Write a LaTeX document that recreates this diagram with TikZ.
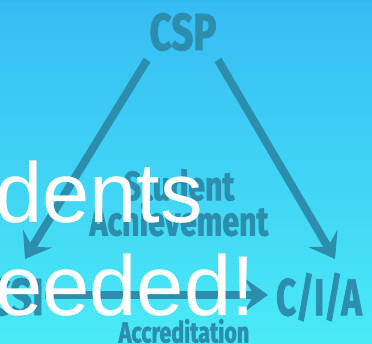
\documentclass[tikz,border=0pt]{standalone}
\usepackage{fontspec}
\usepackage{tikz}
\usetikzlibrary{arrows.meta}
\usetikzlibrary{positioning}

\newfontfamily\slidefont{Liberation Sans}
\newfontfamily\labelfont[FakeStretch=0.74, BoldFeatures={FakeBold=1.6}]{Fira Sans}

\definecolor{bgtop}{RGB}{54,188,244}
\definecolor{bgbot}{RGB}{74,234,246}
\definecolor{ink}{RGB}{44,142,172}

\begin{document}
\begin{tikzpicture}
			[
			x=1pt, y=-1pt,
			font=\labelfont\bfseries,
			every node/.style={text=ink, inner sep=0}
			]
			
			% Styles: the thick arrows and the slide words
			\tikzstyle{link}=[draw=ink, line width=8pt, -{Stealth[length=24pt,width=34pt,inset=10pt]}]
			\tikzstyle{big}=[font=\labelfont\bfseries\fontsize{52}{55}\selectfont]
			\tikzstyle{mid}=[font=\labelfont\bfseries\fontsize{41}{44}\selectfont]
			\tikzstyle{small}=[font=\labelfont\bfseries\fontsize{29}{32}\selectfont]
			\tikzstyle{overlay}=[text=white, anchor=base west, font=\slidefont\fontsize{85}{92}\selectfont]
			
			% Background
			\useasboundingbox (0,0) rectangle (372,343);
			\shade[top color=bgtop, bottom color=bgbot] (0,0) rectangle (372,343);
			
			% The three corners
			\node[big](csp) at (183,32){CSP};
			\node[big](csi) at (16,297){CSI};
			\node[big,xscale=0.9,transform shape](cia) at (319,297){C/I/A};
			
			% Middle and bottom words
			\node[mid](student) at (179,185){Student};
			\node[mid,below=1pt of student](achieve){Achievement};
			\node[small](accred) at (184,331){Accreditation};
			
			% Arrow ends
			\coordinate (l0) at (147,60);
			\coordinate (l1) at (25,259);
			\coordinate (r0) at (218,60);
			\coordinate (r1) at (335,259);
			\coordinate (b0) at (45,295);
			\coordinate (b1) at (268,295);
			
			% Arrows
			\draw[link](l0)to(l1);
			\draw[link](r0)to(r1);
			\draw[link](b0)to(b1);
			
			% White slide text on top
			\node[overlay](dents) at (-5,222){dents};
			\node[overlay](needed) at (-5,315){eeded!};
\end{tikzpicture}
\end{document}
